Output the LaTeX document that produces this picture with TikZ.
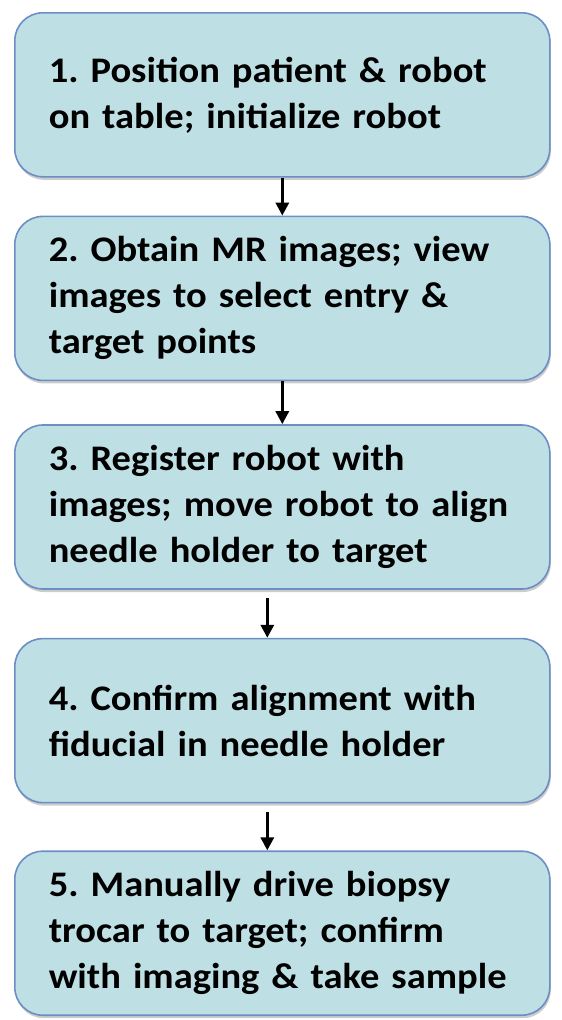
\documentclass[tikz,border=0pt]{standalone}
\usepackage{fontspec}
\setmainfont{Carlito}[FakeStretch=1.07]
\usetikzlibrary{positioning,shadows,arrows.meta}

\definecolor{boxfill}{RGB}{190,224,228}
\definecolor{boxline}{RGB}{108,142,196}
\frenchspacing

\begin{document}
\begin{tikzpicture}[stepbox/.style={draw=boxline,line width=1.6pt,fill=boxfill,
                      rounded corners=28pt,text width=467pt,inner xsep=34pt,
                      inner ysep=0pt,minimum height=164pt,align=left,
                      font=\fontsize{36}{46}\selectfont\bfseries,
                      drop shadow={shadow xshift=1pt,shadow yshift=-3pt,
                                   opacity=0.2,fill=black}},
                    flow/.style={-{Triangle[length=13pt,width=13pt]},line width=3pt}]
  \useasboundingbox (0,0) rectangle (562pt,-1020pt);

  % the five steps
  \node[stepbox,anchor=north west] (s1) at (14pt,-12pt)
    {1. Position patient \& robot\\on table; initialize robot};
  \node[stepbox,below=38pt of s1] (s2)
    {2. Obtain MR images; view\\images to select entry \&\\target points};
  \node[stepbox,below=43pt of s2] (s3)
    {3. Register robot with\\images; move robot to align\\needle holder to target};
  \node[stepbox,below=48pt of s3] (s4)
    {4. Confirm alignment with\\fiducial in needle holder};
  \node[stepbox,below=47pt of s4] (s5)
    {5. Manually drive biopsy\\trocar to target; confirm\\with imaging \& take sample};

  % arrows between steps
  \draw[flow] (s1.south) -- (s2.north);
  \draw[flow] (s2.south) -- (s3.north);
  \draw[flow,shorten <=8pt] ([xshift=-15pt]s3.south) -- ([xshift=-15pt]s4.north);
  \draw[flow,shorten <=9pt] ([xshift=-15pt]s4.south) -- ([xshift=-15pt]s5.north);
\end{tikzpicture}
\end{document}
